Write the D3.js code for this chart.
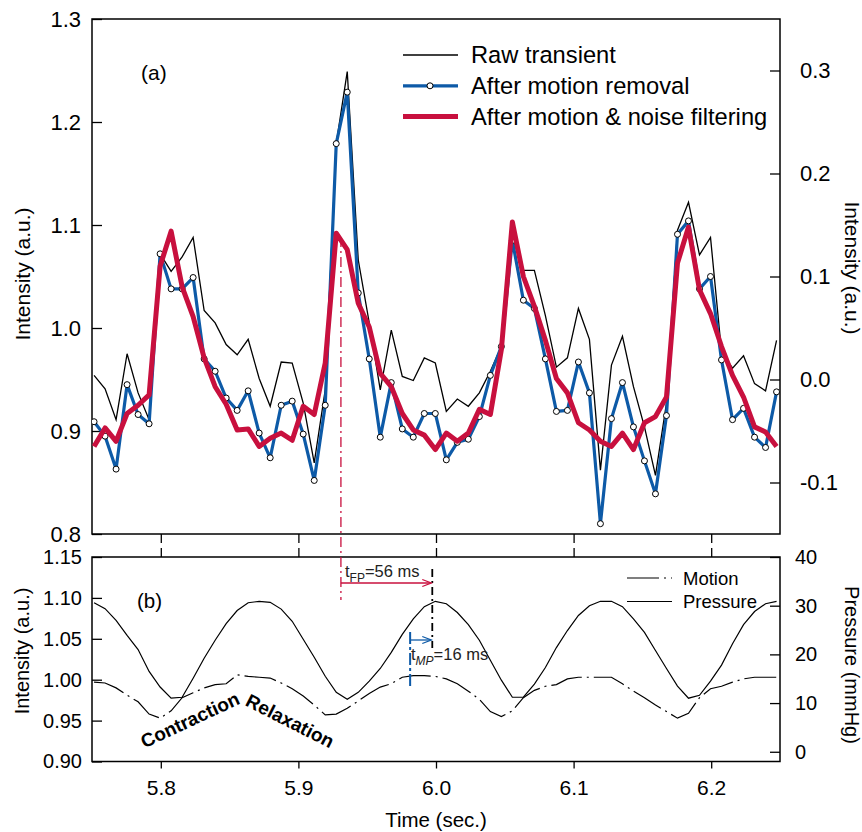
<!DOCTYPE html>
<html>
<head>
<meta charset="utf-8">
<script src="https://cdn.jsdelivr.net/npm/d3@7"></script>
<style>
	body { margin: 0; background: #fff; }
	svg { font-family: "Liberation Sans", Arial, sans-serif; }
</style>
</head>
<body>
<div id="chart"></div>
<script>
// sample times (sec.), shared by every trace
const times = [
	5.7515, 5.7595, 5.7675, 5.7755, 5.7835, 5.7915, 5.7995, 5.8075, 5.8155, 5.8235,
	5.8315, 5.8395, 5.8475, 5.8555, 5.8635, 5.8715, 5.8795, 5.8875, 5.8955, 5.9035,
	5.9115, 5.9195, 5.9275, 5.9355, 5.9435, 5.9515, 5.9595, 5.9675, 5.9755, 5.9835,
	5.9915, 5.9995, 6.0075, 6.0155, 6.0235, 6.0315, 6.0395, 6.0475, 6.0555, 6.0635,
	6.0715, 6.0795, 6.0875, 6.0955, 6.1035, 6.1115, 6.1195, 6.1275, 6.1355, 6.1435,
	6.1515, 6.1595, 6.1675, 6.1755, 6.1835, 6.1915, 6.1995, 6.2075, 6.2155, 6.2235,
	6.2315, 6.2395, 6.2475
];

// panel (a)
const rawTransient = [
	0.954, 0.941, 0.911, 0.975, 0.937, 0.911, 1.072, 1.055, 1.069, 1.088,
	1.017, 1.005, 0.984, 0.974, 0.989, 0.951, 0.924, 0.967, 0.966, 0.927,
	0.869, 0.940, 1.179, 1.249, 1.066, 1.005, 0.940, 0.998, 0.953, 0.949,
	0.971, 0.966, 0.919, 0.931, 0.924, 0.937, 0.958, 0.982, 1.088, 1.056,
	1.056, 1.012, 0.962, 0.971, 1.019, 0.989, 0.862, 0.964, 0.992, 0.943,
	0.904, 0.857, 0.927, 1.095, 1.122, 1.071, 1.088, 0.977, 0.961, 0.973,
	0.946, 0.939, 0.988
];
const afterMotionRemoval = [
	0.909, 0.895, 0.863, 0.945, 0.916, 0.907, 1.072, 1.038, 1.038, 1.049,
	0.970, 0.958, 0.932, 0.920, 0.939, 0.898, 0.874, 0.925, 0.929, 0.897,
	0.852, 0.925, 1.179, 1.229, 1.034, 0.970, 0.894, 0.947, 0.902, 0.894,
	0.917, 0.917, 0.872, 0.889, 0.892, 0.914, 0.954, 0.982, 1.085, 1.027,
	1.019, 0.970, 0.919, 0.920, 0.967, 0.937, 0.810, 0.912, 0.947, 0.904,
	0.871, 0.839, 0.915, 1.091, 1.104, 1.038, 1.050, 0.969, 0.911, 0.922,
	0.894, 0.884, 0.938
];
const afterFiltering = [
	0.885, 0.903, 0.890, 0.917, 0.925, 0.935, 1.060, 1.094, 1.040, 1.011,
	0.971, 0.943, 0.926, 0.901, 0.902, 0.885, 0.893, 0.898, 0.891, 0.924,
	0.916, 0.966, 1.092, 1.076, 1.024, 1.001, 0.956, 0.943, 0.917, 0.901,
	0.896, 0.882, 0.898, 0.890, 0.898, 0.921, 0.916, 0.979, 1.103, 1.050,
	1.021, 0.988, 0.951, 0.937, 0.908, 0.901, 0.890, 0.885, 0.898, 0.882,
	0.908, 0.914, 0.933, 1.063, 1.098, 1.037, 1.014, 0.982, 0.954, 0.933,
	0.904, 0.899, 0.885
];

// panel (b)
const motion = [
	0.997, 0.996, 0.990, 0.981, 0.973, 0.958, 0.953, 0.962, 0.978, 0.984,
	0.990, 0.994, 0.995, 1.006, 1.004, 1.003, 1.002, 0.996, 0.989, 0.980,
	0.969, 0.957, 0.958, 0.965, 0.974, 0.983, 0.991, 0.995, 1.003, 1.005,
	1.005, 1.004, 1.001, 0.995, 0.986, 0.976, 0.961, 0.955, 0.962, 0.978,
	0.987, 0.992, 0.994, 1.001, 1.003, 1.003, 1.003, 1.003, 0.995, 0.986,
	0.978, 0.969, 0.961, 0.953, 0.959, 0.978, 0.989, 0.992, 0.997, 1.001,
	1.003, 1.003, 1.003
];
const pressure = [
	30.6, 29.4, 27.0, 23.9, 21.0, 16.5, 13.3, 11.0, 11.2, 15.1,
	19.2, 22.9, 26.3, 29.0, 30.6, 30.9, 30.7, 29.3, 26.8, 23.1,
	19.4, 15.5, 12.2, 10.8, 12.2, 14.5, 17.1, 20.4, 24.1, 27.3,
	29.8, 30.9, 30.4, 28.6, 26.1, 22.9, 18.8, 14.7, 11.2, 11.2,
	13.9, 17.3, 21.4, 24.9, 28.0, 30.0, 30.9, 30.9, 29.8, 27.3,
	24.5, 20.8, 17.1, 13.5, 11.0, 11.6, 14.5, 17.8, 22.2, 26.1,
	28.8, 30.4, 30.9
];

const timeTicks = [5.8, 5.9, 6.0, 6.1, 6.2];
const topLeftTicks = [0.8, 0.9, 1.0, 1.1, 1.2, 1.3];
const topRightTicks = [-0.1, 0.0, 0.1, 0.2, 0.3];
const botLeftTicks = [0.90, 0.95, 1.00, 1.05, 1.10, 1.15];
const botRightTicks = [0, 10, 20, 30, 40];

// timing markers (sec.)
const tFluo = 5.9309;
const tMotion = 5.9812;
const tPressure = 5.9973;

const BLUE = '#0d5aa7';
const RED = '#c8103e';

const width = 862;
const height = 832;
const left = 92, right = 780;
const topA = 19, botA = 534;
const topB = 557, botB = 761.5;

const svg = d3.select('#chart').append('svg')
	.attr('width', width)
	.attr('height', height);

const x = d3.scaleLinear().domain([5.75, 6.25]).range([left, right]);
const yA = d3.scaleLinear().domain([0.8, 1.3]).range([botA, topA]);
const yAR = d3.scaleLinear().domain([-0.15, 0.35]).range([botA, topA]);
const yB = d3.scaleLinear().domain([0.90, 1.15]).range([botB, topB]);
const yBR = d3.scaleLinear().domain([-2, 40]).range([botB, topB]);

// plain hyphen for negatives, as in the original figure
const fmt = (p) => (d) => d3.format(p)(d).replace('\u2212', '-');

const defs = svg.append('defs');
defs.append('clipPath').attr('id', 'clipA')
	.append('rect').attr('x', left).attr('y', topA)
	.attr('width', right - left).attr('height', botA - topA);
defs.append('clipPath').attr('id', 'clipB')
	.append('rect').attr('x', left).attr('y', topB)
	.attr('width', right - left).attr('height', botB - topB);

const noDomain = (g) => g.select('.domain').remove();

// ==== axes ====
function styleTicks(g, size) {
	g.selectAll('.tick line').attr('stroke', '#000').attr('stroke-width', 1.3);
	g.selectAll('.tick text').attr('fill', '#000').style('font-size', size + 'px');
}

svg.append('g')
	.attr('transform', `translate(${left},0)`)
	.call(d3.axisLeft(yA).tickValues(topLeftTicks).tickSize(-10).tickPadding(11)
		.tickFormat(fmt('.1f')))
	.call(noDomain)
	.call((g) => styleTicks(g, 22));

svg.append('g')
	.attr('transform', `translate(${right},0)`)
	.call(d3.axisRight(yAR).tickValues(topRightTicks).tickSize(-10).tickPadding(20)
		.tickFormat(fmt('.1f')))
	.call(noDomain)
	.call((g) => styleTicks(g, 22));

svg.append('g')
	.attr('transform', `translate(0,${botA})`)
	.call(d3.axisBottom(x).tickValues(timeTicks).tickSize(9).tickFormat(''))
	.call(noDomain)
	.call((g) => styleTicks(g, 20));

svg.append('g')
	.attr('transform', `translate(0,${topB})`)
	.call(d3.axisTop(x).tickValues(timeTicks).tickSize(9).tickFormat(''))
	.call(noDomain)
	.call((g) => styleTicks(g, 20));

svg.append('g')
	.attr('transform', `translate(${left},0)`)
	.call(d3.axisLeft(yB).tickValues(botLeftTicks).tickSize(-10).tickPadding(10)
		.tickFormat(fmt('.2f')))
	.call(noDomain)
	.call((g) => styleTicks(g, 20));

svg.append('g')
	.attr('transform', `translate(${right},0)`)
	.call(d3.axisRight(yBR).tickValues(botRightTicks).tickSize(-10).tickPadding(15))
	.call(noDomain)
	.call((g) => styleTicks(g, 20));

svg.append('g')
	.attr('transform', `translate(0,${botB})`)
	.call(d3.axisBottom(x).tickValues(timeTicks).tickSize(7).tickPadding(12)
		.tickFormat(fmt('.1f')))
	.call(noDomain)
	.call((g) => styleTicks(g, 21));

// frames
svg.append('rect').attr('x', left).attr('y', topA)
	.attr('width', right - left).attr('height', botA - topA)
	.attr('fill', 'none').attr('stroke', '#000').attr('stroke-width', 1.5);
svg.append('rect').attr('x', left).attr('y', topB)
	.attr('width', right - left).attr('height', botB - topB)
	.attr('fill', 'none').attr('stroke', '#000').attr('stroke-width', 1.5);

// axis titles
svg.append('text')
	.attr('transform', 'translate(22,274) rotate(-90)')
	.attr('text-anchor', 'middle').attr('dominant-baseline', 'central')
	.style('font-size', '21px').text('Intensity (a.u.)');
svg.append('text')
	.attr('transform', 'translate(852,268) rotate(90)')
	.attr('text-anchor', 'middle').attr('dominant-baseline', 'central')
	.style('font-size', '21px').text('Intensity (a.u.)');
svg.append('text')
	.attr('transform', 'translate(22,651) rotate(-90)')
	.attr('text-anchor', 'middle').attr('dominant-baseline', 'central')
	.style('font-size', '20px').text('Intensity (a.u.)');
svg.append('text')
	.attr('transform', 'translate(852,665) rotate(90)')
	.attr('text-anchor', 'middle').attr('dominant-baseline', 'central')
	.style('font-size', '20px').text('Pressure (mmHg)');
svg.append('text')
	.attr('x', 436).attr('y', 819)
	.attr('text-anchor', 'middle').attr('dominant-baseline', 'central')
	.style('font-size', '20.5px').text('Time (sec.)');

// ==== panel (a) traces ====
const lineA = d3.line().x((d, i) => x(times[i])).y((d) => yA(d));
const gA = svg.append('g').attr('clip-path', 'url(#clipA)');

gA.append('path').datum(rawTransient)
	.attr('d', lineA).attr('fill', 'none')
	.attr('stroke', '#000').attr('stroke-width', 1.3);

gA.append('path').datum(afterMotionRemoval)
	.attr('d', lineA).attr('fill', 'none')
	.attr('stroke', BLUE).attr('stroke-width', 3.2)
	.attr('stroke-linejoin', 'round');

gA.selectAll('.marker').data(afterMotionRemoval).enter()
	.append('circle').attr('class', 'marker')
	.attr('cx', (d, i) => x(times[i])).attr('cy', (d) => yA(d))
	.attr('r', 3).attr('fill', '#fff')
	.attr('stroke', '#000').attr('stroke-width', 1);

gA.append('path').datum(afterFiltering)
	.attr('d', lineA).attr('fill', 'none')
	.attr('stroke', RED).attr('stroke-width', 5)
	.attr('stroke-linejoin', 'round');

svg.append('text').attr('x', 141).attr('y', 72)
	.attr('dominant-baseline', 'central')
	.style('font-size', '21px').text('(a)');

// legend (a)
const legendA = [
	{ label: 'Raw transient', color: '#000', w: 1.3, dot: false },
	{ label: 'After motion removal', color: BLUE, w: 3.2, dot: true },
	{ label: 'After motion & noise filtering', color: RED, w: 5, dot: false },
];
const legA = svg.append('g');
legendA.forEach((d, i) => {
	const yy = 55 + i * 30.8;
	legA.append('line').attr('x1', 403).attr('x2', 458)
		.attr('y1', yy).attr('y2', yy)
		.attr('stroke', d.color).attr('stroke-width', d.w);
	if (d.dot) {
		legA.append('circle').attr('cx', 430).attr('cy', yy).attr('r', 3)
			.attr('fill', '#fff').attr('stroke', '#000').attr('stroke-width', 1);
	}
	legA.append('text').attr('x', 471).attr('y', yy)
		.attr('dominant-baseline', 'central')
		.style('font-size', '23.7px').text(d.label);
});

// ==== panel (b) traces ====
const gB = svg.append('g').attr('clip-path', 'url(#clipB)');

gB.append('path').datum(pressure)
	.attr('d', d3.line().x((d, i) => x(times[i])).y((d) => yBR(d)))
	.attr('fill', 'none').attr('stroke', '#000').attr('stroke-width', 1.2);

gB.append('path').datum(motion)
	.attr('d', d3.line().x((d, i) => x(times[i])).y((d) => yB(d)))
	.attr('fill', 'none').attr('stroke', '#000').attr('stroke-width', 1.2)
	.attr('stroke-dasharray', '32,5,2,5');

svg.append('text').attr('x', 137).attr('y', 600)
	.attr('dominant-baseline', 'central')
	.style('font-size', '20.5px').text('(b)');

// legend (b)
const legB = svg.append('g');
legB.append('line').attr('x1', 627).attr('x2', 672)
	.attr('y1', 578).attr('y2', 578)
	.attr('stroke', '#000').attr('stroke-width', 1.2)
	.attr('stroke-dasharray', '32,5,2,5');
legB.append('text').attr('x', 683).attr('y', 578)
	.attr('dominant-baseline', 'central')
	.style('font-size', '18.5px').text('Motion');
legB.append('line').attr('x1', 627).attr('x2', 672)
	.attr('y1', 601.5).attr('y2', 601.5)
	.attr('stroke', '#000').attr('stroke-width', 1.2);
legB.append('text').attr('x', 683).attr('y', 601.5)
	.attr('dominant-baseline', 'central')
	.style('font-size', '18.5px').text('Pressure');

// phase labels
svg.append('text')
	.attr('transform', 'translate(190,720) rotate(-25)')
	.attr('text-anchor', 'middle').attr('dominant-baseline', 'central')
	.style('font-size', '19px').style('font-weight', 'bold')
	.text('Contraction');
svg.append('text')
	.attr('transform', 'translate(290,721) rotate(27)')
	.attr('text-anchor', 'middle').attr('dominant-baseline', 'central')
	.style('font-size', '19px').style('font-weight', 'bold')
	.text('Relaxation');

// ==== timing annotations ====
const ann = svg.append('g');

function arrow(x1, x2, yy, color) {
	ann.append('line').attr('x1', x1).attr('x2', x2)
		.attr('y1', yy).attr('y2', yy)
		.attr('stroke', color).attr('stroke-width', 1.3);
	ann.append('path')
		.attr('d', `M${x2 - 9},${yy - 3.5}L${x2},${yy}L${x2 - 9},${yy + 3.5}`)
		.attr('fill', 'none').attr('stroke', color).attr('stroke-width', 1.3);
}

// fluorescence peak marker
ann.append('line')
	.attr('x1', x(tFluo)).attr('x2', x(tFluo))
	.attr('y1', 237).attr('y2', 600)
	.attr('stroke', RED).attr('stroke-width', 1.3)
	.attr('stroke-dasharray', '10,4,2,4');
// pressure peak marker
ann.append('line')
	.attr('x1', x(tPressure)).attr('x2', x(tPressure))
	.attr('y1', 569).attr('y2', 648)
	.attr('stroke', '#000').attr('stroke-width', 1.8)
	.attr('stroke-dasharray', '8,4,2,4');
// motion peak marker
ann.append('line')
	.attr('x1', x(tMotion)).attr('x2', x(tMotion))
	.attr('y1', 632).attr('y2', 687)
	.attr('stroke', BLUE).attr('stroke-width', 2)
	.attr('stroke-dasharray', '12,3,3,3');

arrow(x(tFluo), x(tPressure) - 1, 583, RED);
arrow(x(tMotion), x(tPressure) - 1, 640, BLUE);

ann.append('text').attr('x', 345).attr('y', 577)
	.style('font-size', '16.5px').attr('fill', '#222')
	.call((t) => {
		t.append('tspan').text('t');
		t.append('tspan').attr('dy', 5).style('font-size', '12px').text('FP');
		t.append('tspan').attr('dy', -5).text('=56 ms');
	});
ann.append('text').attr('x', 411).attr('y', 660)
	.style('font-size', '16.5px').attr('fill', '#222')
	.call((t) => {
		t.append('tspan').text('t');
		t.append('tspan').attr('dy', 5).style('font-size', '12px')
			.style('font-style', 'italic').text('MP');
		t.append('tspan').attr('dy', -5).text('=16 ms');
	});
</script>
</body>
</html>
